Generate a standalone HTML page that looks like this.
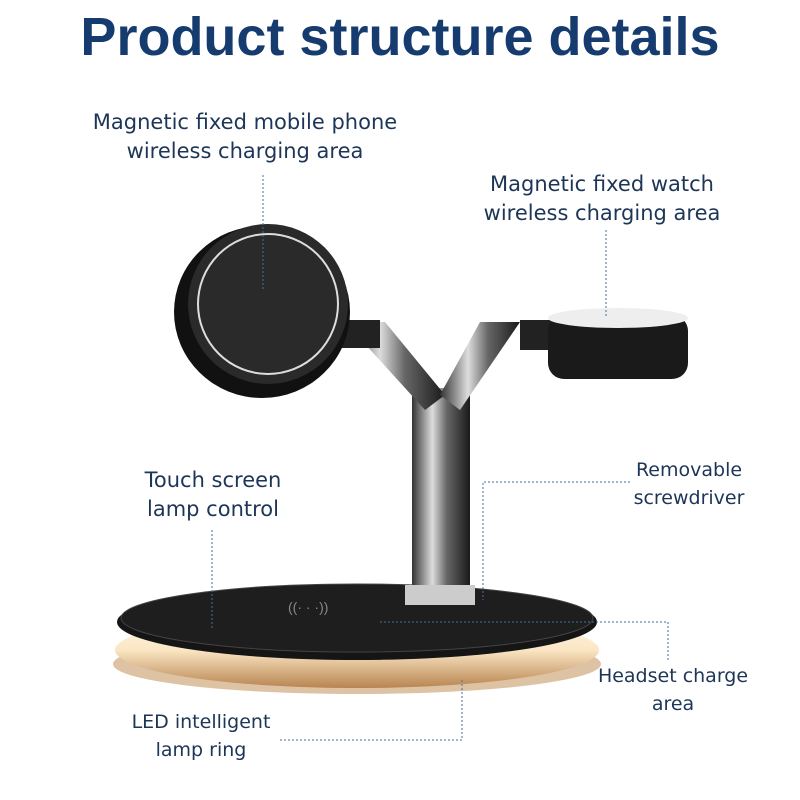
<!DOCTYPE html>
<html><head><meta charset="utf-8"><style>
body{margin:0;width:800px;height:800px;background:#fff;overflow:hidden;position:relative;font-family:"DejaVu Sans","Liberation Sans",sans-serif}
.t{position:absolute;color:#1d3557;font-size:21px;text-align:center;line-height:29px;white-space:nowrap}
h1{position:absolute;top:6px;left:0;width:800px;text-align:center;margin:0;font-size:54px;color:#163b6e;font-weight:bold;font-family:"Liberation Sans",sans-serif}
</style></head><body>
<h1>Product structure details</h1>
<div class="t" style="left:84px;top:108px;width:322px">Magnetic fixed mobile phone<br>wireless charging area</div>
<div class="t" style="left:476px;top:170px;width:252px">Magnetic fixed watch<br>wireless charging area</div>
<div class="t" style="left:134px;top:466px;width:158px">Touch screen<br>lamp control</div>
<div class="t" style="left:624px;top:456px;width:130px;font-size:19px;line-height:28px">Removable<br>screwdriver</div>
<div class="t" style="left:590px;top:662px;width:166px;font-size:19px;line-height:28px">Headset charge<br>area</div>
<div class="t" style="left:120px;top:708px;width:162px;font-size:19px;line-height:28px">LED intelligent<br>lamp ring</div>
<svg width="800" height="800" style="position:absolute;left:0;top:0">
<defs>
<linearGradient id="glow" x1="0" y1="0" x2="0" y2="1"><stop offset="0" stop-color="#fffaf0"/><stop offset="0.5" stop-color="#fbe6c4"/><stop offset="1" stop-color="#b88450"/></linearGradient>
<linearGradient id="met" x1="0" x2="1"><stop offset="0" stop-color="#333"/><stop offset="0.35" stop-color="#ddd"/><stop offset="0.6" stop-color="#666"/><stop offset="1" stop-color="#1a1a1a"/></linearGradient>
</defs>
<ellipse cx="357" cy="664" rx="244" ry="30" fill="#c89a68" opacity="0.6"/>
<ellipse cx="357" cy="650" rx="242" ry="38" fill="url(#glow)"/>
<ellipse cx="357" cy="622" rx="240" ry="38" fill="#151515"/>
<ellipse cx="357" cy="618" rx="236" ry="34" fill="#1e1e1e" stroke="#444" stroke-width="1"/>
<rect x="412" y="388" width="58" height="210" fill="url(#met)"/>
<polygon points="345,322 385,322 445,395 425,410" fill="url(#met)"/>
<polygon points="480,322 520,322 460,410 440,395" fill="url(#met)"/>
<rect x="330" y="320" width="50" height="28" fill="#222"/>
<rect x="520" y="320" width="40" height="30" fill="#222"/>
<rect x="405" y="585" width="70" height="20" fill="#ccc"/>
<ellipse cx="262" cy="312" rx="88" ry="86" fill="#111"/>
<ellipse cx="268" cy="304" rx="80" ry="80" fill="#2a2a2a"/>
<circle cx="268" cy="304" r="70" fill="none" stroke="#ddd" stroke-width="2"/>
<rect x="548" y="315" width="140" height="64" rx="16" fill="#1a1a1a"/>
<ellipse cx="618" cy="318" rx="70" ry="10" fill="#eee"/>
<text x="288" y="612" fill="#888" font-size="14" font-family="Liberation Sans">((·  ·  ·))</text>
<g stroke="#4a6e98" stroke-width="1" stroke-dasharray="2,2" fill="none">
<path d="M263 175V290"/><path d="M606 230V318"/><path d="M212 530V630"/>
<path d="M630 482H483V600"/><path d="M380 622H668V660"/><path d="M280 740H462V680"/>
</g>
</svg>
</body></html>
